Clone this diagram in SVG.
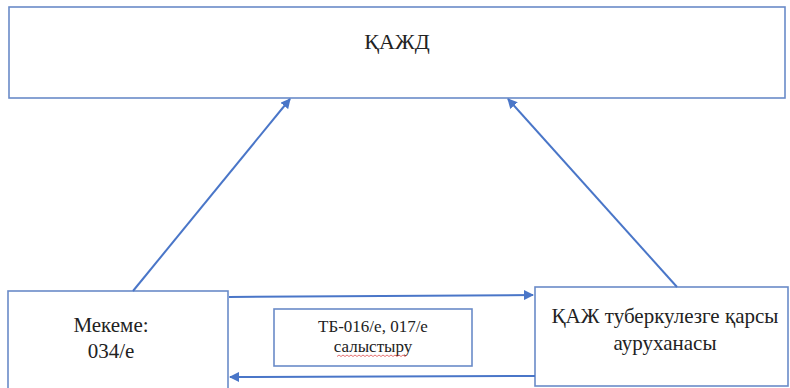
<svg xmlns="http://www.w3.org/2000/svg" width="790" height="388" viewBox="0 0 790 388">
<defs>
<style>
.box{fill:#fff;stroke:#6a8bc8;stroke-width:1.6}
.t{font-family:'Liberation Serif','Times New Roman',serif;fill:#222;text-anchor:middle}
.c{stroke:#4a76c8;stroke-width:2;fill:none}
</style>
<marker id="ah" viewBox="0 0 10 10" refX="9" refY="5" markerWidth="5" markerHeight="5" orient="auto-start-reverse" markerUnits="strokeWidth">
<path d="M0,0 L10,5 L0,10 z" fill="#4a76c8"/>
</marker>
</defs>
<rect width="790" height="388" fill="#fff"/>
<g id="kazhd">
<rect class="box" x="9" y="7" width="776" height="91"/>
<text class="t" x="397" y="49" font-size="22">ҚАЖД</text>
</g>
<g id="mekeme">
<rect class="box" x="8" y="291" width="220" height="110"/>
<text class="t" x="111" y="332" font-size="21">Мекеме:</text>
<text class="t" x="111" y="358" font-size="21">034/е</text>
</g>
<g id="hospital">
<rect class="box" x="535" y="287" width="253" height="99"/>
<text class="t" x="665" y="323" font-size="21">ҚАЖ туберкулезге қарсы</text>
<text class="t" x="665" y="350" font-size="21">ауруханасы</text>
</g>
<g id="compare">
<rect class="box" x="274" y="309" width="198" height="57"/>
<text class="t" x="373" y="332" font-size="17">ТБ-016/е, 017/е</text>
<text class="t" x="373" y="352" font-size="17">салыстыру</text>
<path d="M337,356.5 l2,-1.5 l2,1.5 l2,-1.5 l2,1.5 l2,-1.5 l2,1.5 l2,-1.5 l2,1.5 l2,-1.5 l2,1.5 l2,-1.5 l2,1.5 l2,-1.5 l2,1.5 l2,-1.5 l2,1.5 l2,-1.5 l2,1.5 l2,-1.5 l2,1.5 l2,-1.5 l2,1.5 l2,-1.5 l2,1.5 l2,-1.5 l2,1.5 l2,-1.5 l2,1.5 l2,-1.5 l2,1.5 l2,-1.5 l2,1.5 l2,-1.5 l2,1.5 l2,-1.5" fill="none" stroke="#e05050" stroke-width="0.8"/>
</g>
<g id="connectors">
<line class="c" x1="133" y1="291" x2="290" y2="99" marker-end="url(#ah)"/>
<line class="c" x1="677" y1="287" x2="508" y2="99" marker-end="url(#ah)"/>
<line class="c" x1="229" y1="297" x2="533" y2="295" marker-end="url(#ah)"/>
<line class="c" x1="535" y1="376" x2="230" y2="377" marker-end="url(#ah)"/>
</g>
</svg>
